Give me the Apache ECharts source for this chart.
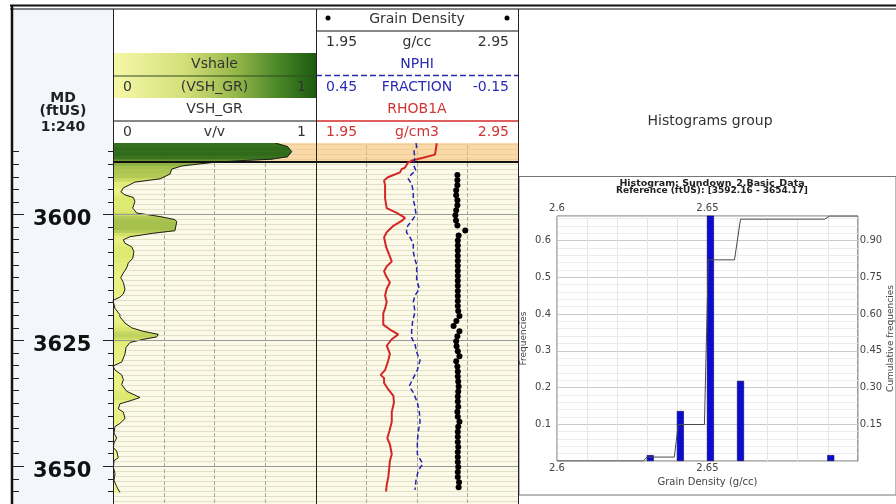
<!DOCTYPE html>
<html><head><meta charset="utf-8">
<script src="https://cdn.jsdelivr.net/npm/echarts@6/dist/echarts.min.js"></script>
<style>html,body{margin:0;padding:0;background:#fff}#c{width:896px;height:504px}</style>
</head><body><div id="c"></div>
<script>
// ---------------- DATA ----------------
const depthLabels = [3600, 3625, 3650];
const zoneTop = 3585;
const zoneBase = 3589.43;

const vshDepth = [3585.8, 3586.5, 3587.5, 3588.5, 3589.0, 3589.3, 3589.7, 3590.35, 3590.98, 3591.95,
  3592.9, 3593.55, 3594.7, 3595.5, 3596.1, 3596.6, 3597.4, 3598.7, 3599.0, 3599.7,
  3600.4, 3601.0, 3601.4, 3603.2, 3603.7, 3604.4, 3605.0, 3605.7, 3606.4, 3607.4,
  3608.7, 3609.65, 3610.6, 3611.6, 3612.5, 3613.5, 3614.8, 3615.75, 3616.4, 3617.05,
  3618.65, 3619.9, 3620.3, 3621.55, 3622.5, 3623.2, 3623.8, 3624.3, 3624.8, 3625.4,
  3626.4, 3627.7, 3629.3, 3630.1, 3630.9, 3631.85, 3632.8, 3633.8, 3635.1, 3636.35,
  3637.0, 3637.6, 3638.6, 3639.25, 3640.5, 3641.5, 3642.1, 3643.4, 3644.4, 3645.35,
  3646.3, 3647.0, 3648.3, 3648.9, 3650.2, 3651.5, 3652.8, 3654.05, 3655.2];
const vshValue = [0.80, 0.86, 0.88, 0.86, 0.78, 0.62, 0.478, 0.338, 0.289, 0.281,
  0.232, 0.108, 0.051, 0.039, 0.059, 0.100, 0.108, 0.097, 0.092, 0.117,
  0.232, 0.305, 0.314, 0.305, 0.199, 0.084, 0.051, 0.059, 0.092, 0.103,
  0.097, 0.075, 0.067, 0.051, 0.038, 0.051, 0.059, 0.051, 0.034, 0.0,
  0.010, 0.034, 0.034, 0.059, 0.092, 0.149, 0.223, 0.215, 0.149, 0.084,
  0.064, 0.059, 0.043, 0.0, 0.010, 0.043, 0.051, 0.043, 0.067, 0.133,
  0.084, 0.034, 0.026, 0.051, 0.059, 0.034, 0.010, 0.005, 0.018, 0.005,
  0.002, 0.018, 0.026, 0.005, 0.002, 0.010, 0.005, 0.018, 0.034];

const rhobDepth = [3585.83, 3588.09, 3588.73, 3589.19, 3589.69, 3590.66, 3590.98, 3591.62, 3592.59, 3593.24,
  3594.21, 3596.78, 3598.71, 3599.67, 3600.64, 3601.27, 3602.24, 3603.53, 3604.50, 3606.43,
  3608.36, 3609.32, 3610.29, 3611.25, 3612.22, 3613.51, 3614.73, 3616.08, 3617.37, 3618.65,
  3619.61, 3621.87, 3622.84, 3623.80, 3624.77, 3626.06, 3627.66, 3628.96, 3630.89, 3631.85,
  3632.49, 3633.46, 3634.75, 3636.02, 3637.32, 3639.25, 3641.18, 3643.11, 3644.40, 3645.68,
  3647.61, 3648.90, 3650.19, 3652.12, 3653.73, 3655.02];
const rhobValue = [2.548, 2.539, 2.480, 2.430, 2.405, 2.391, 2.374, 2.366, 2.306, 2.287,
  2.292, 2.292, 2.300, 2.350, 2.391, 2.374, 2.333, 2.300, 2.287, 2.297,
  2.316, 2.325, 2.300, 2.287, 2.297, 2.316, 2.300, 2.292, 2.300, 2.292,
  2.283, 2.283, 2.316, 2.357, 2.325, 2.300, 2.316, 2.308, 2.292, 2.270,
  2.287, 2.287, 2.308, 2.333, 2.336, 2.325, 2.325, 2.313, 2.303, 2.316,
  2.325, 2.316, 2.313, 2.308, 2.300, 2.297];

const nphiDepth = [3585.8, 3586.49, 3587.45, 3588.73, 3590.02, 3591.31, 3591.95, 3592.92, 3593.88, 3595.48,
  3597.10, 3598.38, 3600.0, 3601.27, 3602.57, 3603.53, 3604.50, 3605.79, 3607.39, 3609.00,
  3609.96, 3611.58, 3612.86, 3614.79, 3616.08, 3617.37, 3618.01, 3619.31, 3621.24, 3623.17,
  3624.44, 3625.73, 3627.34, 3628.96, 3630.89, 3632.49, 3634.09, 3635.39, 3637.32, 3639.25,
  3641.18, 3643.11, 3645.04, 3647.61, 3649.54, 3650.83, 3652.76, 3654.69];
const nphiValue = [0.153, 0.151, 0.159, 0.156, 0.161, 0.153, 0.166, 0.176, 0.166, 0.161,
  0.161, 0.156, 0.153, 0.166, 0.181, 0.181, 0.171, 0.161, 0.161, 0.156,
  0.151, 0.151, 0.151, 0.143, 0.156, 0.161, 0.159, 0.156, 0.163, 0.166,
  0.166, 0.156, 0.151, 0.141, 0.149, 0.161, 0.173, 0.161, 0.149, 0.143,
  0.141, 0.146, 0.149, 0.149, 0.133, 0.146, 0.153, 0.156];

const gdDepth = [3592.16, 3593.16, 3594.16, 3595.16, 3596.16, 3597.16, 3598.16, 3599.16, 3600.16, 3601.16,
  3602.16, 3603.16, 3604.16, 3605.16, 3606.16, 3607.16, 3608.16, 3609.16, 3610.16, 3611.16,
  3612.16, 3613.16, 3614.16, 3615.16, 3616.16, 3617.16, 3618.16, 3619.16, 3620.16, 3621.16,
  3622.16, 3623.16, 3624.16, 3625.16, 3626.16, 3627.16, 3628.16, 3629.16, 3630.16, 3631.16,
  3632.16, 3633.16, 3634.16, 3635.16, 3636.16, 3637.16, 3638.16, 3639.16, 3640.16, 3641.16,
  3642.16, 3643.16, 3644.16, 3645.16, 3646.16, 3647.16, 3648.16, 3649.16, 3650.16, 3651.16,
  3652.16, 3653.16, 3654.16];
const gdValue = [2.650, 2.650, 2.650, 2.644, 2.644, 2.650, 2.650, 2.644, 2.640, 2.643,
  2.650, 2.689, 2.656, 2.652, 2.652, 2.652, 2.652, 2.652, 2.652, 2.652,
  2.652, 2.652, 2.652, 2.652, 2.652, 2.652, 2.652, 2.654, 2.660, 2.645,
  2.631, 2.660, 2.650, 2.644, 2.646, 2.652, 2.660, 2.644, 2.650, 2.652,
  2.652, 2.654, 2.656, 2.654, 2.652, 2.652, 2.654, 2.650, 2.652, 2.660,
  2.654, 2.652, 2.652, 2.652, 2.654, 2.652, 2.652, 2.652, 2.654, 2.652,
  2.652, 2.658, 2.656];

const histBin = [2.631, 2.641, 2.651, 2.661, 2.691];
const histFreq = [0.016, 0.136, 0.70, 0.218, 0.016];
const cumX = [2.6, 2.6287, 2.6299, 2.639, 2.6403, 2.649, 2.6503, 2.659, 2.661, 2.689, 2.6906, 2.7];
const cumY = [0, 0, 0.016, 0.016, 0.149, 0.149, 0.821, 0.821, 0.987, 0.987, 1.0, 1.0];

// ---------------- LAYOUT ----------------
const FONT = 'DejaVu Sans';
const D_MIN = 3585, D_MAX = 3657.5;
const PXFT = 5.176;
const GTOP = 216.7 - (3600 - D_MIN) * PXFT;
const GH = (D_MAX - D_MIN) * PXFT;
const zip = (a, b) => a.map((v, i) => [v, b[i]]);

function lerp(a, b, t) { return a + (b - a) * t; }
function vshColor(v) {
  const st = [[0, [245, 248, 150]], [0.1, [222, 233, 112]], [0.3, [168, 194, 78]], [0.6, [92, 146, 46]], [1, [26, 88, 16]]];
  v = Math.max(0, Math.min(1, v));
  for (let i = 0; i < st.length - 1; i++) {
    if (v <= st[i + 1][0]) {
      const t = (v - st[i][0]) / (st[i + 1][0] - st[i][0]);
      const c = st[i][1].map((x, k) => Math.round(lerp(x, st[i + 1][1][k], t)));
      return 'rgb(' + c.join(',') + ')';
    }
  }
  return 'rgb(26,88,16)';
}
const fillData = [];
for (let i = 0; i < vshDepth.length - 1; i++) fillData.push([vshValue[i], vshDepth[i], vshValue[i + 1], vshDepth[i + 1]]);

const chart = echarts.init(document.getElementById('c'), null, { renderer: 'canvas' });

const hidden = { show: false };
function depthAxis(grid, extra) {
  return Object.assign({
    type: 'value', gridIndex: grid, inverse: true, min: D_MIN, max: D_MAX,
    axisLine: hidden, axisLabel: hidden, axisTick: hidden, splitLine: hidden
  }, extra || {});
}
const trackSplit = { show: true, interval: 1, lineStyle: { color: '#e4e0c6', width: 1 } };

const T = (text, x, y, opt) => Object.assign({
  type: 'text', z: 110, style: Object.assign({ text, x, y, fill: '#333', font: '14px ' + FONT, align: 'center', verticalAlign: 'middle' }, opt || {})
});
const L = (x1, y1, x2, y2, stroke, w, dash) => ({
  type: 'line', z: 110, shape: { x1, y1, x2, y2 }, style: { stroke, lineWidth: w || 1, lineDash: dash || null }
});
const R = (x, y, w, h, fill, z, stroke) => ({ type: 'rect', z: z, shape: { x, y, width: w, height: h }, style: { fill, stroke: stroke || null } });

const graphics = [
  R(13, 8, 100, 496, '#f3f6fb', -10),
  R(13, 8, 100, 135, '#f3f6fb', 105),
  R(113, 8, 783, 135, '#ffffff', 105),
  { type: 'rect', z: 106, shape: { x: 113, y: 53, width: 203, height: 45 },
    style: { fill: new echarts.graphic.LinearGradient(0, 0, 1, 0, [
      { offset: 0, color: '#f6f8a8' }, { offset: 0.35, color: '#d4e07a' }, { offset: 0.6, color: '#97b84a' },
      { offset: 0.8, color: '#4f8a2a' }, { offset: 1, color: '#1b5a10' }]) } },
  L(113, 76, 316, 76, '#2e4a20', 1),
  T('Vshale', 214.5, 64.5),
  T('0', 123, 87.5, { align: 'left' }), T('(VSH_GR)', 214.5, 87.5), T('1', 306, 87.5, { align: 'right' }),
  T('VSH_GR', 214.5, 109.5),
  L(113, 121, 316, 121, '#111', 1.2),
  T('0', 123, 132, { align: 'left' }), T('v/v', 214.5, 132), T('1', 306, 132, { align: 'right' }),
  T('Grain Density', 417, 19.5),
  { type: 'circle', z: 110, shape: { cx: 328, cy: 18, r: 2.5 }, style: { fill: '#000' } },
  { type: 'circle', z: 110, shape: { cx: 507, cy: 18, r: 2.5 }, style: { fill: '#000' } },
  L(316, 31, 518, 31, '#111', 1.2),
  T('1.95', 326, 42.5, { align: 'left' }), T('g/cc', 417, 42.5), T('2.95', 509, 42.5, { align: 'right' }),
  T('NPHI', 417, 64.5, { fill: '#2b2bb3' }),
  L(316, 75.5, 518, 75.5, '#2b2bb3', 1.5, [6, 3]),
  T('0.45', 326, 87.5, { align: 'left', fill: '#2b2bb3' }), T('FRACTION', 417, 87.5, { fill: '#2b2bb3' }), T('-0.15', 509, 87.5, { align: 'right', fill: '#2b2bb3' }),
  T('RHOB1A', 417, 109.5, { fill: '#d03535' }),
  L(316, 121, 518, 121, '#d42a2a', 1.5),
  T('1.95', 326, 132, { align: 'left', fill: '#d03535' }), T('g/cm3', 417, 132, { fill: '#d03535' }), T('2.95', 509, 132, { align: 'right', fill: '#d03535' }),
  T('Histograms group', 710, 121),
  T('MD', 63, 98, { font: 'bold 14px ' + FONT, fill: '#222' }),
  T('(ftUS)', 63, 111.5, { font: 'bold 14px ' + FONT, fill: '#222' }),
  T('1:240', 63, 127, { font: 'bold 14px ' + FONT, fill: '#222' }),
  L(10, 5.5, 896, 5.5, '#111', 2),
  L(10, 9, 896, 9, '#111', 1),
  L(12, 5, 12, 504, '#111', 2.5),
  L(113.5, 9, 113.5, 504, '#222', 1),
  L(316.5, 9, 316.5, 504, '#222', 1),
  L(518.5, 9, 518.5, 504, '#222', 1),
  R(519, 176.5, 377, 318.5, '#ffffff', -10, '#777'),
  T('Histogram: Sundown_2.Basic_Data', 712, 183.5, { font: 'bold 9.5px ' + FONT, fill: '#222' }),
  T('Reference (ftUS): [3592.16 - 3654.17]', 712, 191, { font: 'bold 9px ' + FONT, fill: '#222' })
];

const option = {
  animation: false,
  backgroundColor: '#ffffff',
  textStyle: { fontFamily: FONT },
  grid: [
    { left: 13, top: GTOP, width: 100, height: GH, show: false },
    { left: 113, top: GTOP, width: 203, height: GH, show: true, backgroundColor: '#fbf9e7', borderWidth: 0 },
    { left: 316, top: GTOP, width: 202, height: GH, show: true, backgroundColor: '#fbf9e7', borderWidth: 0 },
    { left: 557, top: 216, width: 308, height: 245, show: true, backgroundColor: '#fff', borderColor: '#6a6a6a', borderWidth: 1 }
  ],
  xAxis: [
    { type: 'value', gridIndex: 0, min: 0, max: 1, show: false },
    { type: 'value', gridIndex: 1, min: 0, max: 1, interval: 0.25, axisLine: hidden, axisTick: hidden, axisLabel: hidden,
      splitLine: { show: true, lineStyle: { color: '#a9a9a2', type: [4, 2], width: 1 } } },
    { type: 'value', gridIndex: 2, min: 1.95, max: 2.95, show: false },
    { type: 'value', gridIndex: 2, min: -0.15, max: 0.45, inverse: true, show: false },
    { type: 'value', gridIndex: 2, min: 0, max: 1, interval: 0.25, axisLine: hidden, axisTick: hidden, axisLabel: hidden,
      splitLine: { show: true, lineStyle: { color: '#a9a9a2', type: [4, 2], width: 1 } } },
    { type: 'value', gridIndex: 3, min: 2.6, max: 2.7, interval: 0.05, position: 'bottom',
      axisLine: hidden, axisTick: hidden,
      axisLabel: { show: true, margin: 2, fontSize: 10, color: '#444', fontFamily: FONT, showMaxLabel: false, formatter: v => String(+v.toFixed(2)) },
      splitLine: { show: true, lineStyle: { color: '#c9c9c9' } },
      minorTick: { show: false, splitNumber: 5 }, minorSplitLine: { show: true, lineStyle: { color: '#e6e6e6' } },
      name: 'Grain Density (g/cc)', nameLocation: 'middle', nameGap: 16, nameTextStyle: { fontSize: 10, color: '#444', fontFamily: FONT } },
    { type: 'value', gridIndex: 3, min: 2.6, max: 2.7, interval: 0.05, position: 'top',
      axisLine: hidden, axisTick: hidden, splitLine: hidden,
      axisLabel: { show: true, margin: 3, fontSize: 10, color: '#444', fontFamily: FONT, showMaxLabel: false, formatter: v => String(+v.toFixed(2)) } }
  ],
  yAxis: [
    depthAxis(0, { position: 'left', interval: 2.5, axisTick: { show: true, inside: true, length: 6, lineStyle: { color: '#222' } } }),
    depthAxis(0, { position: 'left',
      axisTick: { show: true, inside: true, length: 11, customValues: depthLabels, lineStyle: { color: '#222' } },
      axisLabel: { show: true, inside: true, margin: 20, customValues: depthLabels, color: '#111', fontFamily: FONT,
        formatter: v => '{d|' + v + '}',
        rich: { d: { fontSize: 21, fontWeight: 'bold', color: '#111', fontFamily: FONT, padding: [10, 0, 0, 0] } } } }),
    depthAxis(0, { position: 'right', interval: 2.5, axisTick: { show: true, inside: true, length: 5, lineStyle: { color: '#222' } } }),
    depthAxis(0, { position: 'right', axisTick: { show: true, inside: true, length: 10, customValues: depthLabels, lineStyle: { color: '#222' } } }),
    depthAxis(1, { interval: 1, splitLine: trackSplit }),
    depthAxis(2, { interval: 1, splitLine: trackSplit }),
    { type: 'value', gridIndex: 3, min: 0, max: 0.6667, interval: 0.1, position: 'left',
      axisLine: hidden, axisTick: hidden,
      axisLabel: { show: true, margin: 6, fontSize: 10, color: '#444', fontFamily: FONT, showMinLabel: false, showMaxLabel: false, formatter: v => v.toFixed(1) },
      splitLine: { show: true, lineStyle: { color: '#c9c9c9' } },
      minorTick: { show: false, splitNumber: 5 }, minorSplitLine: { show: true, lineStyle: { color: '#ececec' } },
      name: 'Frequencies', nameLocation: 'middle', nameGap: 29, nameRotate: 90, nameTextStyle: { fontSize: 9, color: '#444', fontFamily: FONT } },
    { type: 'value', gridIndex: 3, min: 0, max: 1, interval: 0.15, position: 'right',
      axisLine: hidden, axisTick: hidden, splitLine: hidden,
      axisLabel: { show: true, margin: 2, fontSize: 10, color: '#444', fontFamily: FONT, showMinLabel: false, showMaxLabel: false, formatter: v => v.toFixed(2) },
      name: 'Cumulative frequencies', nameLocation: 'middle', nameGap: 23, nameRotate: 90, nameTextStyle: { fontSize: 9, color: '#444', fontFamily: FONT } }
  ],
  graphic: { elements: graphics },
  series: [
    { type: 'line', xAxisIndex: 1, yAxisIndex: 4, data: [], z: 1, silent: true,
      markArea: { silent: true, itemStyle: { color: 'rgba(247,192,115,0.55)' }, data: [[{ yAxis: zoneTop }, { yAxis: zoneBase }]] },
      markLine: { silent: true, symbol: 'none', label: { show: false },
        data: depthLabels.map(d => ({ yAxis: d, lineStyle: { color: '#9a9a96', width: 1, type: 'solid' } })) } },
    { type: 'custom', xAxisIndex: 1, yAxisIndex: 4, z: 3, clip: true, silent: true, data: fillData,
      encode: { x: [0, 2], y: [1, 3] },
      renderItem: function (params, api) {
        const v0 = api.value(0), d0 = api.value(1), v1 = api.value(2), d1 = api.value(3);
        const c = vshColor((v0 + v1) / 2);
        return { type: 'polygon', shape: { points: [api.coord([0, d0]), api.coord([v0, d0]), api.coord([v1, d1]), api.coord([0, d1])] },
          style: { fill: c, stroke: c, lineWidth: 0.6 } };
      } },
    { type: 'line', xAxisIndex: 1, yAxisIndex: 4, z: 4, data: zip(vshValue, vshDepth), symbol: 'none',
      lineStyle: { color: '#1e1e1e', width: 1 },
      markLine: { silent: true, symbol: 'none', label: { show: false }, data: [{ yAxis: zoneBase, lineStyle: { color: '#111', width: 2, type: 'solid' } }] } },
    { type: 'line', xAxisIndex: 2, yAxisIndex: 5, data: [], z: 1, silent: true,
      markArea: { silent: true, itemStyle: { color: 'rgba(247,192,115,0.55)' }, data: [[{ yAxis: zoneTop }, { yAxis: zoneBase }]] },
      markLine: { silent: true, symbol: 'none', label: { show: false },
        data: depthLabels.map(d => ({ yAxis: d, lineStyle: { color: '#9a9a96', width: 1, type: 'solid' } })).concat([{ yAxis: zoneBase, lineStyle: { color: '#111', width: 2, type: 'solid' } }]) } },
    { type: 'line', xAxisIndex: 2, yAxisIndex: 5, z: 5, data: zip(rhobValue, rhobDepth), symbol: 'none',
      lineStyle: { color: '#d42626', width: 2 } },
    { type: 'line', xAxisIndex: 3, yAxisIndex: 5, z: 5, data: zip(nphiValue, nphiDepth), symbol: 'none',
      lineStyle: { color: '#2323b0', width: 1.5, type: [5, 3] } },
    { type: 'scatter', xAxisIndex: 2, yAxisIndex: 5, z: 6, data: zip(gdValue, gdDepth), symbol: 'circle', symbolSize: 6,
      itemStyle: { color: '#000', opacity: 1 } },
    { type: 'bar', xAxisIndex: 5, yAxisIndex: 6, data: zip(histBin, histFreq), barWidth: 7, clip: true,
      itemStyle: { color: '#0b0bd2', borderColor: '#00005a', borderWidth: 0.6 } },
    { type: 'line', xAxisIndex: 5, yAxisIndex: 7, data: zip(cumX, cumY), symbol: 'none', z: 5,
      lineStyle: { color: '#4a4a4a', width: 1 } }
  ]
};
chart.setOption(option);
</script></body></html>
